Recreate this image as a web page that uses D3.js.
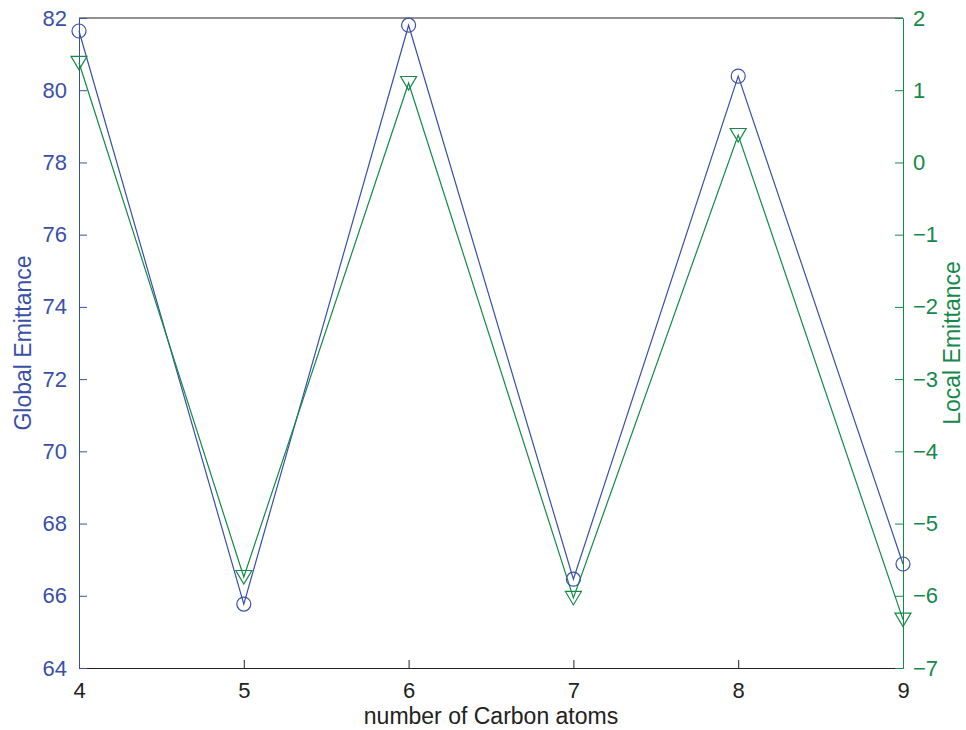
<!DOCTYPE html>
<html>
<head>
<meta charset="utf-8">
<script src="https://cdn.jsdelivr.net/npm/d3@7"></script>
<style>
  body { margin: 0; background: #fff; }
  svg text { font-family: "Liberation Sans", Arial, sans-serif; }
</style>
</head>
<body>
<svg id="chart" width="966" height="730"></svg>
<script>
const carbons = [4, 5, 6, 7, 8, 9];
const globalEmit = [81.64, 65.77, 81.8, 66.46, 80.39, 66.88];
const localEmit = [1.38, -5.74, 1.10, -6.03, 0.38, -6.33];
const leftTicks = [64, 66, 68, 70, 72, 74, 76, 78, 80, 82];
const rightTicks = [-7, -6, -5, -4, -3, -2, -1, 0, 1, 2];

const blue = "#3a50a8";
const green = "#14894a";

const svg = d3.select("#chart");
const margin = { top: 18, right: 63, bottom: 62, left: 79 };
const width = +svg.attr("width");
const height = +svg.attr("height");

const x = d3.scaleLinear().domain([4, 9]).range([margin.left, width - margin.right]);
const yL = d3.scaleLinear().domain([64, 82]).range([height - margin.bottom, margin.top]);
const yR = d3.scaleLinear().domain([-7, 2]).range([height - margin.bottom, margin.top]);

const fmt = d => d < 0 ? "\u2212" + Math.abs(d) : String(d);

// bottom axis
const xAxis = svg.append("g")
    .attr("transform", `translate(0,${height - margin.bottom})`)
    .call(d3.axisBottom(x).tickValues(carbons).tickFormat(d3.format("d"))
        .tickSizeInner(-8).tickSizeOuter(0).tickPadding(14));
xAxis.selectAll("path, line").attr("stroke", "#222");
xAxis.selectAll("text").attr("fill", "#222").style("font-size", "22px");

// top border
svg.append("line")
    .attr("x1", margin.left).attr("x2", width - margin.right)
    .attr("y1", margin.top).attr("y2", margin.top)
    .attr("stroke", "#222");

// left axis
const leftAxis = svg.append("g")
    .attr("transform", `translate(${margin.left},0)`)
    .call(d3.axisLeft(yL).tickValues(leftTicks).tickSizeInner(-8).tickSizeOuter(0).tickPadding(12));
leftAxis.selectAll("path, line").attr("stroke", blue);
leftAxis.selectAll("text").attr("fill", blue).style("font-size", "22px");

// right axis
const rightAxis = svg.append("g")
    .attr("transform", `translate(${width - margin.right},0)`)
    .call(d3.axisRight(yR).tickValues(rightTicks).tickFormat(fmt).tickSizeInner(-8).tickSizeOuter(0).tickPadding(10));
rightAxis.selectAll("path, line").attr("stroke", green);
rightAxis.selectAll("text").attr("fill", green).style("font-size", "22px");

// lines
const gLine = d3.line().x((d, i) => x(carbons[i])).y(d => yL(d));
const lLine = d3.line().x((d, i) => x(carbons[i])).y(d => yR(d));

svg.append("path").datum(globalEmit)
    .attr("d", gLine).attr("fill", "none").attr("stroke", blue).attr("stroke-width", 1.2);
svg.append("path").datum(localEmit)
    .attr("d", lLine).attr("fill", "none").attr("stroke", green).attr("stroke-width", 1.2);

// markers
svg.selectAll(".circ").data(globalEmit).enter()
    .append("circle")
    .attr("cx", (d, i) => x(carbons[i]))
    .attr("cy", d => yL(d))
    .attr("r", 7)
    .attr("fill", "none").attr("stroke", blue).attr("stroke-width", 1.2);

svg.selectAll(".tri").data(localEmit).enter()
    .append("path")
    .attr("transform", (d, i) => `translate(${x(carbons[i])},${yR(d)})`)
    .attr("d", "M-8,-6.5 L8,-6.5 L0,7 Z")
    .attr("fill", "none").attr("stroke", green).attr("stroke-width", 1.2);

// labels
svg.append("text")
    .attr("x", x(6.5)).attr("y", 724)
    .attr("text-anchor", "middle")
    .attr("fill", "#222").style("font-size", "23px")
    .text("number of Carbon atoms");

svg.append("text")
    .attr("transform", `translate(31,${(margin.top + height - margin.bottom) / 2}) rotate(-90)`)
    .attr("text-anchor", "middle")
    .attr("fill", blue).style("font-size", "23px")
    .text("Global Emittance");

svg.append("text")
    .attr("transform", `translate(960,${(margin.top + height - margin.bottom) / 2}) rotate(-90)`)
    .attr("text-anchor", "middle")
    .attr("fill", green).style("font-size", "23px")
    .text("Local Emittance");
</script>
</body>
</html>
